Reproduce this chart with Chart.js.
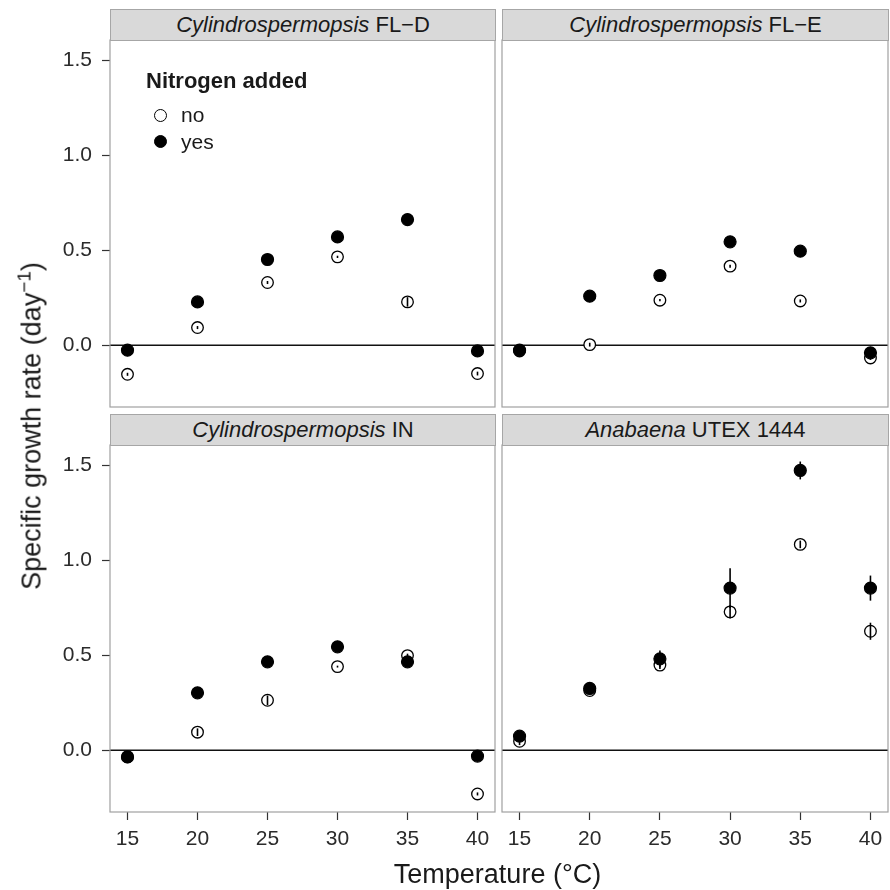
<!DOCTYPE html>
<html><head><meta charset="utf-8">
<script src="https://cdn.jsdelivr.net/npm/chart.js@4.4.1/dist/chart.umd.min.js"></script>
<style>
html,body{margin:0;padding:0;background:#fff;}
body{width:890px;height:890px;position:relative;overflow:hidden;font-family:"Liberation Sans",Arial,Helvetica,sans-serif;}
canvas{position:absolute;}
.strip{position:absolute;box-sizing:border-box;background:#d9d9d9;border:1.2px solid #a6a6a6;display:flex;align-items:center;justify-content:center;font-size:22px;color:#1a1a1a;white-space:nowrap;line-height:1;}
.txt{position:absolute;white-space:nowrap;line-height:1;color:#1a1a1a;}
.mk{position:absolute;box-sizing:border-box;width:13px;height:13px;border-radius:50%;border:1.3px solid #000;}
</style></head><body>
<script>
// ---- data ----
const temps = [15, 20, 25, 30, 35, 40];
const xTicks = [15, 20, 25, 30, 35, 40];
const xRange = [13.75, 41.25];
const yTickVals = [0, 0.5, 1.0, 1.5];
const yTickLabels = ['0.0', '0.5', '1.0', '1.5'];
const yRange = [-0.325, 1.606];

const panelSpecies = ['Cylindrospermopsis', 'Cylindrospermopsis', 'Cylindrospermopsis', 'Anabaena'];
const panelStrain = ['FL\u2212D', 'FL\u2212E', 'IN', 'UTEX 1444'];
const seriesNames = ['no', 'yes'];

const flDNo  = [-0.153, 0.093, 0.330, 0.465, 0.228, -0.149];
const flDYes = [-0.026, 0.228, 0.451, 0.570, 0.661, -0.030];
const flENo  = [-0.030, 0.003, 0.237, 0.416, 0.233, -0.067];
const flEYes = [-0.026, 0.258, 0.367, 0.544, 0.495, -0.040];
const inNo   = [-0.035, 0.095, 0.263, 0.440, 0.498, -0.230];
const inYes  = [-0.035, 0.302, 0.465, 0.544, 0.465, -0.031];
const anaNo  = [0.047, 0.314, 0.448, 0.728, 1.083, 0.626];
const anaYes = [0.074, 0.325, 0.481, 0.853, 1.472, 0.853];

// error bar half-widths
const flDNoErr  = [0.008, 0.008, 0.008, 0.006, 0.025, 0.010];
const flDYesErr = [0.010, 0.010, 0.010, 0.010, 0.010, 0.010];
const flENoErr  = [0.010, 0.010, 0.006, 0.008, 0.008, 0.010];
const flEYesErr = [0.010, 0.010, 0.010, 0.010, 0.010, 0.010];
const inNoErr   = [0.010, 0.020, 0.025, 0.005, 0.010, 0.008];
const inYesErr  = [0.010, 0.010, 0.010, 0.010, 0.010, 0.010];
const anaNoErr  = [0.020, 0.010, 0.020, 0.035, 0.020, 0.045];
const anaYesErr = [0.010, 0.010, 0.044, 0.105, 0.047, 0.066];

// ---- layout ----
const FONT = '"Liberation Sans", Arial, Helvetica, sans-serif';
const panels = [
  {no: flDNo, yes: flDYes, noErr: flDNoErr, yesErr: flDYesErr, L: 110, T: 40, R: 495, B: 407, showY: true, showX: false},
  {no: flENo, yes: flEYes, noErr: flENoErr, yesErr: flEYesErr, L: 502, T: 40, R: 888, B: 407, showY: false, showX: false},
  {no: inNo, yes: inYes, noErr: inNoErr, yesErr: inYesErr, L: 110, T: 445, R: 495, B: 812, showY: true, showX: true},
  {no: anaNo, yes: anaYes, noErr: anaNoErr, yesErr: anaYesErr, L: 502, T: 445, R: 888, B: 812, showY: false, showX: true}
];

const framePlugin = {
  id: 'frame',
  afterDraw(chart) {
    const a = chart.chartArea, ctx = chart.ctx;
    ctx.save();
    ctx.strokeStyle = '#a0a0a0';
    ctx.lineWidth = 1.2;
    ctx.strokeRect(a.left, a.top, a.right - a.left, a.bottom - a.top);
    ctx.restore();
  }
};
const errPlugin = {
  id: 'errbars',
  afterDatasetsDraw(chart) {
    const ctx = chart.ctx, xs = chart.scales.x, ys = chart.scales.y;
    ctx.save();
    ctx.strokeStyle = '#000';
    ctx.lineWidth = 1.6;
    ctx.lineCap = 'butt';
    chart.data.datasets.forEach(ds => {
      if (!ds.errors) return;
      ds.data.forEach((pt, i) => {
        const e = ds.errors[i];
        const px = xs.getPixelForValue(pt.x);
        ctx.beginPath();
        ctx.moveTo(px, ys.getPixelForValue(pt.y - e));
        ctx.lineTo(px, ys.getPixelForValue(pt.y + e));
        ctx.stroke();
      });
    });
    ctx.restore();
  }
};

function makePanel(p, idx) {
  const leftSpace = p.showY ? 110 : 1;
  const bottomSpace = p.showX ? 60 : 1;
  const cw = (p.R - p.L) + leftSpace + 1;
  const ch = (p.B - p.T) + 1 + bottomSpace;
  const c = document.createElement('canvas');
  c.width = cw; c.height = ch;
  c.style.left = (p.L - leftSpace) + 'px';
  c.style.top = (p.T - 1) + 'px';
  c.style.width = cw + 'px'; c.style.height = ch + 'px';
  document.body.appendChild(c);

  // strip
  const s = document.createElement('div');
  s.className = 'strip';
  s.style.left = p.L + 'px';
  s.style.top = (p.T - 31) + 'px';
  s.style.width = (p.R - p.L + 1) + 'px';
  s.style.height = '32px';
  s.innerHTML = '<span><i>' + panelSpecies[idx] + '</i> ' + panelStrain[idx] + '</span>';
  document.body.appendChild(s);

  const toPts = arr => temps.map((t, i) => ({x: t, y: arr[i]}));
  new Chart(c, {
    type: 'scatter',
    data: {
      datasets: [
        {label: seriesNames[1], data: toPts(p.yes), errors: p.yesErr, pointStyle: 'circle', pointRadius: 6, pointBorderWidth: 1.2, backgroundColor: '#000', borderColor: '#000', order: 0},
        {label: seriesNames[0], data: toPts(p.no), errors: p.noErr, pointStyle: 'circle', pointRadius: 5.8, pointBorderWidth: 1.3, backgroundColor: '#fff', borderColor: '#000', order: 1},
        {label: 'zero', data: [{x: xRange[0], y: 0}, {x: xRange[1], y: 0}], showLine: true, pointRadius: 0, borderColor: '#111', borderWidth: 1.7, order: 3}
      ]
    },
    options: {
      responsive: false, animation: false, devicePixelRatio: 1, events: [],
      layout: {autoPadding: false, padding: {left: p.showY ? 0 : 1, right: 1, top: 1, bottom: p.showX ? 0 : 1}},
      plugins: {legend: {display: false}, tooltip: {enabled: false}},
      scales: {
        x: {
          type: 'linear', min: xRange[0], max: xRange[1], display: p.showX,
          afterBuildTicks: sc => { sc.ticks = xTicks.map(v => ({value: v})); },
          afterFit: sc => { sc.height = p.showX ? 60 : 0; sc.paddingLeft = 0; sc.paddingRight = 0; },
          ticks: {font: {size: 21, family: FONT}, color: '#2b2b2b', padding: 7, maxRotation: 0, autoSkip: false, callback: v => String(v)},
          grid: {drawOnChartArea: false, drawTicks: true, tickLength: 8, tickColor: '#333', tickWidth: 1.2},
          border: {display: false}
        },
        y: {
          type: 'linear', min: yRange[0], max: yRange[1], display: p.showY,
          afterBuildTicks: sc => { sc.ticks = yTickVals.map(v => ({value: v})); },
          afterFit: sc => { sc.width = p.showY ? 110 : 0; sc.paddingTop = 0; sc.paddingBottom = 0; },
          ticks: {font: {size: 21, family: FONT}, color: '#2b2b2b', padding: 10, autoSkip: false, callback: (v, i) => yTickLabels[i]},
          grid: {drawOnChartArea: false, drawTicks: true, tickLength: 8, tickColor: '#333', tickWidth: 1.2},
          border: {display: false}
        }
      }
    },
    plugins: [framePlugin, errPlugin]
  });
}
panels.forEach(makePanel);

// titles and legend (text)
function addText(html, left, top, size, extra) {
  const d = document.createElement('div');
  d.className = 'txt';
  d.innerHTML = html;
  d.style.left = left + 'px'; d.style.top = top + 'px';
  d.style.fontSize = size + 'px';
  if (extra) Object.assign(d.style, extra);
  document.body.appendChild(d);
  return d;
}
addText('Temperature (\u00B0C)', 497.5, 860.5, 27, {transform: 'translateX(-50%)'});
addText('Specific growth rate (day<sup style="font-size:0.7em;vertical-align:0.55em;line-height:0">\u22121</sup>)', 31.5, 426, 27, {transform: 'translate(-50%,-50%) rotate(-90deg)'});
addText('Nitrogen added', 146, 70, 22, {fontWeight: 'bold'});
addText(seriesNames[0], 181, 104, 21);
addText(seriesNames[1], 181, 131, 21);
const m1 = document.createElement('div'); m1.className = 'mk';
Object.assign(m1.style, {left: '153.5px', top: '108.5px', background: '#fff'});
document.body.appendChild(m1);
const m2 = document.createElement('div'); m2.className = 'mk';
Object.assign(m2.style, {left: '153.5px', top: '134.5px', background: '#000'});
document.body.appendChild(m2);
</script>
</body></html>
